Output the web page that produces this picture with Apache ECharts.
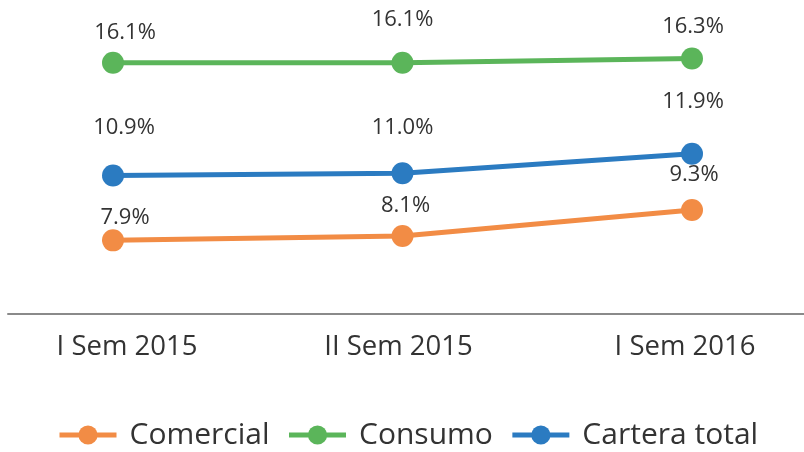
<!DOCTYPE html>
<html>
<head>
<meta charset="utf-8">
<script src="https://cdn.jsdelivr.net/npm/echarts@6/dist/echarts.min.js"></script>
<style>
  html, body { margin: 0; padding: 0; background: #fff; }
  #chart { width: 804px; height: 452px; }
</style>
</head>
<body>
<div id="chart"></div>
<script>
var categories = ['I Sem 2015', 'II Sem 2015', 'I Sem 2016'];
var comercial = [7.9, 8.1, 9.3];
var consumo = [16.1, 16.1, 16.3];
var cartera = [10.9, 11.0, 11.9];

var font = '"Open Sans", sans-serif';

// label shifts [dx, dy] from the point centre, one per point
function makeSeries(name, values, color, shifts) {
    return {
        name: name,
        type: 'line',
        data: values.map(function (v, i) {
            return {
                value: v,
                label: { offset: shifts[i] }
            };
        }),
        symbol: 'circle',
        symbolSize: 22,
        lineStyle: { color: color, width: 5 },
        itemStyle: { color: color },
        label: {
            show: true,
            position: 'inside',
            color: '#333',
            fontFamily: font,
            fontSize: 22,
            formatter: function (p) { return p.value.toFixed(1) + '%'; }
        },
        emphasis: { disabled: true },
        animation: false
    };
}

// the tick labels sit a little off their points in the original
var labelPads = [[0, 0, 0, 28], [0, 8, 0, 0], [0, 14, 0, 0]];

var myChart = echarts.init(document.getElementById('chart'));

var option = {
    backgroundColor: '#fff',
    grid: [
        { left: 113, right: 112, top: 0, bottom: 138 },
        // second grid only carries the long baseline
        { left: 8, right: 0, top: 0, bottom: 138 }
    ],
    legend: {
        bottom: -3,
        left: 52,
        itemWidth: 57,
        itemHeight: 24,
        itemGap: 17,
        lineStyle: { width: 5 },
        textStyle: {
            color: '#333',
            fontFamily: font,
            fontSize: 30,
            padding: [0, 0, 0, 8]
        },
        data: ['Comercial', 'Consumo', 'Cartera total']
    },
    xAxis: [{
        type: 'category',
        data: categories.map(function (c, i) {
            return { value: c, textStyle: { padding: labelPads[i] } };
        }),
        boundaryGap: false,
        axisLine: { show: false },
        axisTick: { show: false },
        axisLabel: {
            color: '#333',
            fontFamily: font,
            fontSize: 27.5,
            margin: 19
        }
    }, {
        type: 'category',
        gridIndex: 1,
        data: categories,
        axisLine: { lineStyle: { color: '#8a8a8a', width: 2 } },
        axisTick: { show: false },
        axisLabel: { show: false }
    }],
    yAxis: [{
        type: 'value',
        min: 4.5,
        max: 19,
        show: false,
        splitLine: { show: false }
    }, {
        type: 'value',
        gridIndex: 1,
        show: false,
        splitLine: { show: false }
    }],
    series: [
        makeSeries('Comercial', comercial, '#F28C45', [[12, -23], [3, -30], [2, -35]]),
        makeSeries('Consumo', consumo, '#5BB55A', [[12, -30], [0, -43], [1, -32]]),
        makeSeries('Cartera total', cartera, '#2B7BC1', [[11, -48], [0, -46], [1, -52]])
    ]
};

myChart.setOption(option);
</script>
</body>
</html>
